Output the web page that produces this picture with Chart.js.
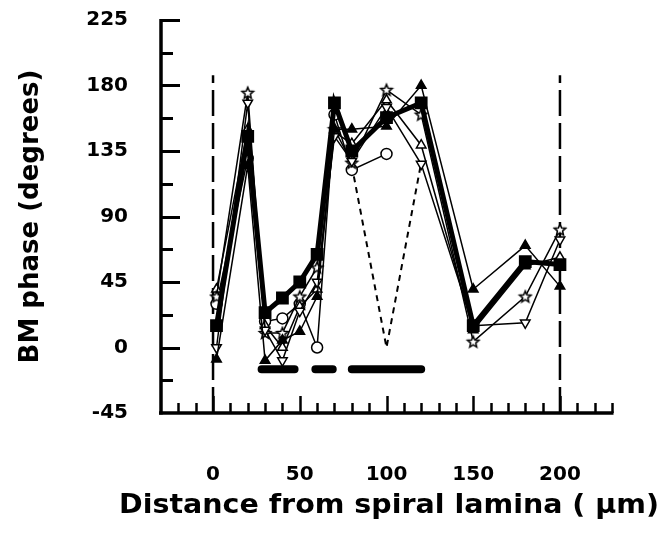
<!DOCTYPE html>
<html><head><meta charset="utf-8">
<script src="https://cdn.jsdelivr.net/npm/chart.js@4.4.1/dist/chart.umd.min.js"></script>
<style>html,body{margin:0;padding:0;background:#fff}#wrap{width:664px;height:540px}</style>
</head><body><div id="wrap"><canvas id="c" width="664" height="540"></canvas></div>
<script>
// ---- data ----
const distances   = [2, 20, 30, 40, 50, 60, 70, 80, 100, 120, 150, 180, 200];
const squareMean  = [15, 145, 24, 34, 45, 64, 168, 135, 158, 168, 15, 59, 57];
const filledTri   = [-8, 125, -9, 5, 11, 35, 150, 150, 152, 180, 40, 70, 42];
const openDownTri = [0, 168, 12, -9, 25, 45, 145, 128, 165, 126, 15, 17, 74];
const openStar    = [35, 175, 10, 10, 35, 55, 150, 127, 177, 160, 4, 35, 81];
const openUpTri   = [40, 150, 15, 0, 28, 40, 148, 140, 170, 139, 12, 56, 62];
const openCircle  = [30, 130, 18, 20, 30, 0, 160, 122, 133, null, null, null, null];
const dottedX = [80, 100, 120];
const dottedY = [125, 0, 127];
const boundaryX = [0, 200];
const boundaryY = [-45, 187];
const barLevel = -15;
const barSegments = [[28, 47], [59, 69], [80, 120]];
const yTickValues = [-45, 0, 45, 90, 135, 180, 225];
const xTickValues = [0, 50, 100, 150, 200];
const xTitle = 'Distance from spiral lamina ( \u03bcm)';
const yTitle = 'BM phase (degrees)';

const pts = (xs, ys) => xs.map((x, i) => ({x: x, y: ys[i]}));

function starImg(r) {
  const s = Math.ceil(2 * r + 4);
  const c = document.createElement('canvas');
  c.width = s; c.height = s;
  const g = c.getContext('2d');
  const cx = s / 2, cy = s / 2 + 0.5;
  g.beginPath();
  for (let i = 0; i < 10; i++) {
    const a = -Math.PI / 2 + i * Math.PI / 5;
    const rr = (i % 2) ? r * 0.45 : r;
    const px = cx + rr * Math.cos(a), py = cy + rr * Math.sin(a);
    if (i === 0) g.moveTo(px, py); else g.lineTo(px, py);
  }
  g.closePath();
  g.fillStyle = '#fff'; g.fill();
  g.lineWidth = 1.5; g.strokeStyle = '#000'; g.stroke();
  return c;
}
const star = starImg(6);

const barData = [];
barSegments.forEach(seg => {
  barData.push({x: seg[0], y: barLevel});
  barData.push({x: seg[1], y: barLevel});
  barData.push({x: seg[1] + 1, y: null});
});

const FONT = "'DejaVu Sans', 'Liberation Sans', Arial, sans-serif";

const framePlugin = {
  id: 'frame',
  afterDraw(chart) {
    const ctx = chart.ctx;
    const xs = chart.scales.x, ys = chart.scales.y;
    const L = xs.getPixelForValue(xs.min), R = xs.getPixelForValue(xs.max);
    const T = ys.getPixelForValue(ys.max), B = ys.getPixelForValue(ys.min);
    ctx.save();
    ctx.strokeStyle = '#000';
    ctx.lineCap = 'butt';
    ctx.lineWidth = 3;
    for (let v = -22.5; v <= 225.01; v += 22.5) {
      const y = Math.round(ys.getPixelForValue(v)) + 0.5;
      const len = (Math.abs(v % 45) < 0.01) ? 19 : 12;
      ctx.beginPath(); ctx.moveTo(L, y); ctx.lineTo(L + len, y); ctx.stroke();
    }
    ctx.lineWidth = 2.5;
    for (let v = -20; v <= 230; v += 10) {
      const x = Math.round(xs.getPixelForValue(v)) + 0.5;
      const len = (v % 50 === 0) ? 17 : 10;
      ctx.beginPath(); ctx.moveTo(x, B); ctx.lineTo(x, B - len); ctx.stroke();
    }
    ctx.lineWidth = 3.5;
    ctx.beginPath(); ctx.moveTo(L, T - 1); ctx.lineTo(L, B + 1.5); ctx.stroke();
    ctx.beginPath(); ctx.moveTo(L - 2, B); ctx.lineTo(R + 1.5, B); ctx.stroke();
    // x-axis title (wider than the plot area in the reference)
    ctx.fillStyle = '#000';
    ctx.font = 'bold 26px ' + FONT;
    ctx.textAlign = 'center';
    ctx.textBaseline = 'middle';
    const w = ctx.measureText(xTitle).width;
    const sx = 540 / w;
    ctx.translate(389, 506);
    ctx.scale(sx, 1);
    ctx.fillText(xTitle, 0, 0);
    ctx.restore();
  }
};

new Chart(document.getElementById('c'), {
  type: 'line',
  data: {
    datasets: [
      {data: pts(distances, squareMean), borderColor: '#000', borderWidth: 5, pointStyle: 'rect',
       pointRadius: 5.5, pointBackgroundColor: '#000', pointBorderColor: '#000', order: 0},
      {data: pts(distances, filledTri), borderColor: '#000', borderWidth: 1.5, pointStyle: 'triangle',
       pointRadius: 5.5, pointBackgroundColor: '#000', pointBorderColor: '#000', order: 1},
      {data: pts(distances, openDownTri), borderColor: '#000', borderWidth: 1.5, pointStyle: 'triangle',
       rotation: 180, pointRadius: 5.5, pointBackgroundColor: '#fff', pointBorderColor: '#000', pointBorderWidth: 1.5, order: 2},
      {data: pts(distances, openStar), borderColor: '#000', borderWidth: 1.5, pointStyle: star,
       pointRadius: 6, order: 3},
      {data: pts(distances, openUpTri), borderColor: '#000', borderWidth: 1.5, pointStyle: 'triangle',
       pointRadius: 5.5, pointBackgroundColor: '#fff', pointBorderColor: '#000', pointBorderWidth: 1.5, order: 4},
      {data: pts(distances, openCircle), borderColor: '#000', borderWidth: 1.5, pointStyle: 'circle',
       pointRadius: 5.5, pointBackgroundColor: '#fff', pointBorderColor: '#000', pointBorderWidth: 1.5, spanGaps: false, order: 5},
      {data: pts(dottedX, dottedY), borderColor: '#000', borderWidth: 2, borderDash: [6, 5], pointRadius: 0, order: 6},
      {data: pts([boundaryX[0], boundaryX[0]], boundaryY), borderColor: '#000', borderWidth: 2.5, borderDash: [26, 7], pointRadius: 0, order: 7},
      {data: pts([boundaryX[1], boundaryX[1]], boundaryY), borderColor: '#000', borderWidth: 2.5, borderDash: [26, 7], pointRadius: 0, order: 7},
      {data: barData, borderColor: '#000', borderWidth: 8, borderCapStyle: 'round', pointRadius: 0, spanGaps: false, order: 8}
    ]
  },
  options: {
    responsive: false,
    animation: false,
    devicePixelRatio: 1,
    events: [],
    layout: {padding: {left: 0, right: 52, top: 20, bottom: 0}},
    plugins: {legend: {display: false}, tooltip: {enabled: false}},
    scales: {
      x: {
        type: 'linear', min: -30, max: 230,
        grid: {display: false, drawTicks: false},
        border: {display: false},
        afterBuildTicks: s => { s.ticks = xTickValues.map(v => ({value: v})); },
        afterFit: s => { s.height = 127; s.paddingLeft = 0; s.paddingRight = 0; },
        ticks: {color: '#000', padding: 50, maxRotation: 0, autoSkip: false,
                font: {family: FONT, size: 20, weight: 'bold'}},
        title: {display: false, text: xTitle}
      },
      y: {
        min: -45, max: 225,
        grid: {display: false, drawTicks: false},
        border: {display: false},
        afterBuildTicks: s => { s.ticks = yTickValues.map(v => ({value: v})); },
        afterFit: s => { s.width = 161; s.paddingTop = 0; s.paddingBottom = 0; },
        ticks: {color: '#000', padding: 33, autoSkip: false,
                font: {family: FONT, size: 20, weight: 'bold'}},
        title: {display: true, text: yTitle, color: '#000',
                font: {family: FONT, size: 26, weight: 'bold'}, padding: {top: 16, bottom: 0}}
      }
    }
  },
  plugins: [framePlugin]
});
</script></body></html>
